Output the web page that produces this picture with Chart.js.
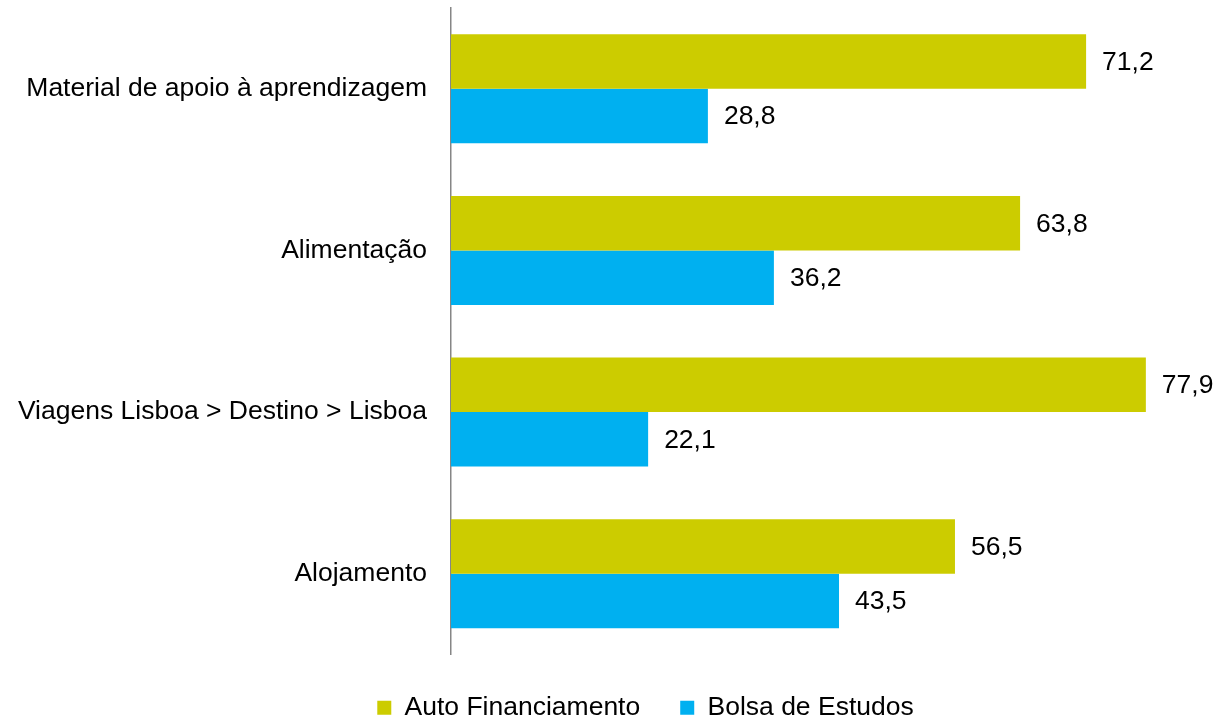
<!DOCTYPE html>
<html>
<head>
<meta charset="utf-8">
<script src="https://cdn.jsdelivr.net/npm/chart.js@4/dist/chart.umd.min.js"></script>
<style>
	html, body { margin: 0; padding: 0; background: #fff; overflow: hidden; }
	canvas { display: block; }
</style>
</head>
<body>
<canvas id="chart" width="1219" height="719"></canvas>
<script>
/* data */
const categories         = ['Material de apoio à aprendizagem', 'Alimentação', 'Viagens Lisboa > Destino > Lisboa', 'Alojamento'];
const autoFinanciamento  = [71.2, 63.8, 77.9, 56.5];
const bolsaEstudos       = [28.8, 36.2, 22.1, 43.5];
const seriesNames        = ['Auto Financiamento', 'Bolsa de Estudos'];
const axisMin = 0;
const axisMax = 86.1;

const FONT = "'Liberation Sans', Arial, sans-serif";

// value labels to the right of each bar
const barValueLabels = {
	id: 'barValueLabels',
	afterDatasetsDraw(chart) {
		const ctx = chart.ctx;
		ctx.save();
		ctx.font = `26.5px ${FONT}`;
		ctx.fillStyle = '#000';
		ctx.textAlign = 'left';
		ctx.textBaseline = 'middle';
		chart.data.datasets.forEach((ds, i) => {
			const meta = chart.getDatasetMeta(i);
			meta.data.forEach((bar, j) => {
				const txt = ds.data[j].toFixed(1).replace('.', ',');
				ctx.fillText(txt, bar.x + 16, bar.y + 1);
			});
		});
		ctx.restore();
	}
};

// nudge the legend to the right (the original is not centred on the canvas)
const legendShift = {
	id: 'legendShift',
	afterLayout(chart) {
		chart.legend.left += 31;
		chart.legend.right += 31;
	}
};

new Chart(document.getElementById('chart'), {
	type: 'bar',
	data: {
		labels: categories,
		datasets: [
			{ label: seriesNames[0], data: autoFinanciamento, backgroundColor: '#CCCC00', borderWidth: 0 },
			{ label: seriesNames[1], data: bolsaEstudos,      backgroundColor: '#00B0F0', borderWidth: 0 }
		]
	},
	options: {
		indexAxis: 'y',
		responsive: false,
		animation: false,
		devicePixelRatio: 1,
		categoryPercentage: 0.674,
		barPercentage: 1,
		layout: {
			padding: { top: 8, left: 10, right: 0, bottom: -12 }
		},
		scales: {
			x: {
				display: false,
				min: axisMin,
				max: axisMax
			},
			y: {
				grid: { display: false, drawTicks: false },
				border: { display: true, color: '#868686', width: 1.5 },
				ticks: {
					color: '#000',
					padding: 24,
					font: { family: FONT, size: 26.5 }
				},
				afterFit(scale) {
					scale.width = 441;
					scale.paddingTop = 0;
					scale.paddingBottom = 0;
				}
			}
		},
		plugins: {
			legend: {
				position: 'bottom',
				labels: {
					boxWidth: 14,
					boxHeight: 14,
					padding: 40,
					color: '#000',
					font: { family: FONT, size: 26.5 }
				}
			},
			tooltip: { enabled: false }
		}
	},
	plugins: [barValueLabels, legendShift]
});
</script>
</body>
</html>
